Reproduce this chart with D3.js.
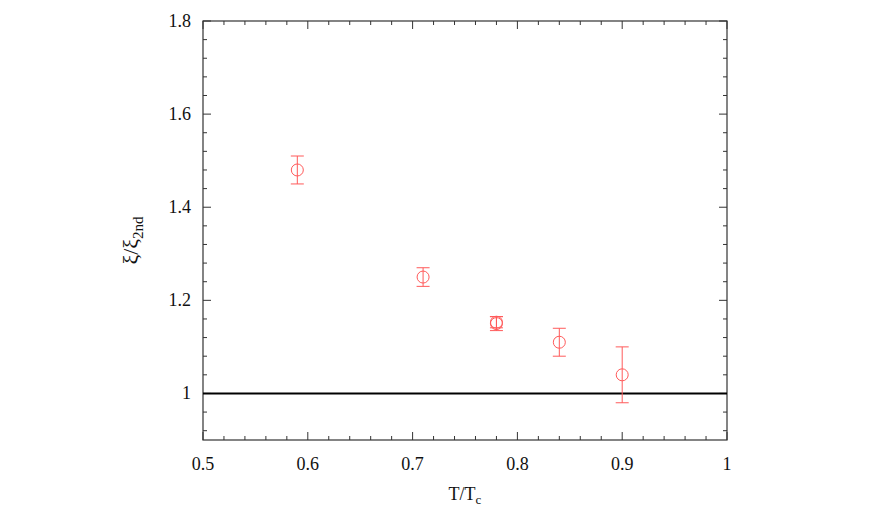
<!DOCTYPE html>
<html>
<head>
<meta charset="utf-8">
<script src="https://cdn.jsdelivr.net/npm/d3@7"></script>
<style>
  body { margin: 0; background: #fff; }
  text { font-family: "Liberation Serif", "Times New Roman", serif; }
</style>
</head>
<body>
<div id="chart"></div>
<script>
(function() {
    const width = 882;
    const height = 530;

    // data
    const temps = [0.59, 0.71, 0.78, 0.78, 0.84, 0.90];
    const ratios = [1.48, 1.25, 1.15, 1.153, 1.11, 1.04];
    const errors = [0.03, 0.02, 0.015, 0.012, 0.03, 0.06];

    const xTicks = [0.5, 0.6, 0.7, 0.8, 0.9, 1];
    const yTicks = [1, 1.2, 1.4, 1.6, 1.8];
    const refLine = 1;

    const left = 203, right = 727, top = 21, bottom = 440;

    const x = d3.scaleLinear().domain([0.5, 1]).range([left, right]);
    const y = d3.scaleLinear().domain([0.9, 1.8]).range([bottom, top]);

    const svg = d3.select("#chart").append("svg")
        .attr("width", width)
        .attr("height", height);

    const frameColor = "#333";

    // minor ticks (inward, all four sides)
    const xMinor = d3.range(0.5, 1.0001, 0.02);
    const yMinor = d3.range(0.92, 1.8001, 0.04);

    const ticks = svg.append("g").attr("stroke", frameColor).attr("stroke-width", 1);

    xMinor.forEach(v => {
        const major = xTicks.some(t => Math.abs(t - v) < 1e-6);
        const len = major ? 8 : 4;
        ticks.append("line").attr("x1", x(v)).attr("x2", x(v)).attr("y1", bottom).attr("y2", bottom - len);
        ticks.append("line").attr("x1", x(v)).attr("x2", x(v)).attr("y1", top).attr("y2", top + len);
    });
    yMinor.forEach(v => {
        const major = yTicks.some(t => Math.abs(t - v) < 1e-6);
        const len = major ? 8 : 4;
        ticks.append("line").attr("y1", y(v)).attr("y2", y(v)).attr("x1", left).attr("x2", left + len);
        ticks.append("line").attr("y1", y(v)).attr("y2", y(v)).attr("x1", right).attr("x2", right - len);
    });

    // frame
    svg.append("rect")
        .attr("x", left).attr("y", top)
        .attr("width", right - left).attr("height", bottom - top)
        .attr("fill", "none")
        .attr("stroke", frameColor)
        .attr("stroke-width", 1.2);

    // tick labels
    svg.append("g").selectAll("text")
        .data(xTicks).enter().append("text")
        .attr("x", d => x(d))
        .attr("y", bottom + 30)
        .attr("text-anchor", "middle")
        .attr("font-size", 18)
        .attr("fill", "#111")
        .text(d => d3.format("")(d));

    svg.append("g").selectAll("text")
        .data(yTicks).enter().append("text")
        .attr("x", left - 12)
        .attr("y", d => y(d) + 6)
        .attr("text-anchor", "end")
        .attr("font-size", 18)
        .attr("fill", "#111")
        .text(d => d === 1 ? "1" : d3.format(".1f")(d));

    // reference line at 1
    svg.append("line")
        .attr("x1", left).attr("x2", right)
        .attr("y1", y(refLine)).attr("y2", y(refLine))
        .attr("stroke", "#000")
        .attr("stroke-width", 2);

    // error bars + points
    const pts = temps.map((t, i) => ({ t: t, v: ratios[i], e: errors[i] }));
    const red = "#ff5a5a";
    const cap = 6.5;

    const eg = svg.append("g").attr("stroke", red).attr("stroke-width", 1).attr("fill", "none");
    pts.forEach(d => {
        const cx = x(d.t);
        eg.append("line").attr("x1", cx).attr("x2", cx).attr("y1", y(d.v + d.e)).attr("y2", y(d.v - d.e));
        eg.append("line").attr("x1", cx - cap).attr("x2", cx + cap).attr("y1", y(d.v + d.e)).attr("y2", y(d.v + d.e));
        eg.append("line").attr("x1", cx - cap).attr("x2", cx + cap).attr("y1", y(d.v - d.e)).attr("y2", y(d.v - d.e));
        eg.append("circle").attr("cx", cx).attr("cy", y(d.v)).attr("r", 6);
    });

    // axis titles
    const xl = svg.append("text")
        .attr("x", (left + right) / 2)
        .attr("y", bottom + 60)
        .attr("text-anchor", "middle")
        .attr("font-size", 18)
        .attr("fill", "#111");
    xl.append("tspan").text("T/T");
    xl.append("tspan").attr("font-size", 13).attr("dy", 4).text("c");

    const yl = svg.append("text")
        .attr("transform", `translate(138, ${(top + bottom) / 2 + 10}) rotate(-90)`)
        .attr("text-anchor", "middle")
        .attr("font-size", 22)
        .attr("fill", "#111");
    yl.append("tspan").text("ξ/ξ");
    yl.append("tspan").attr("font-size", 15).attr("dy", 5).text("2nd");
})();
</script>
</body>
</html>
